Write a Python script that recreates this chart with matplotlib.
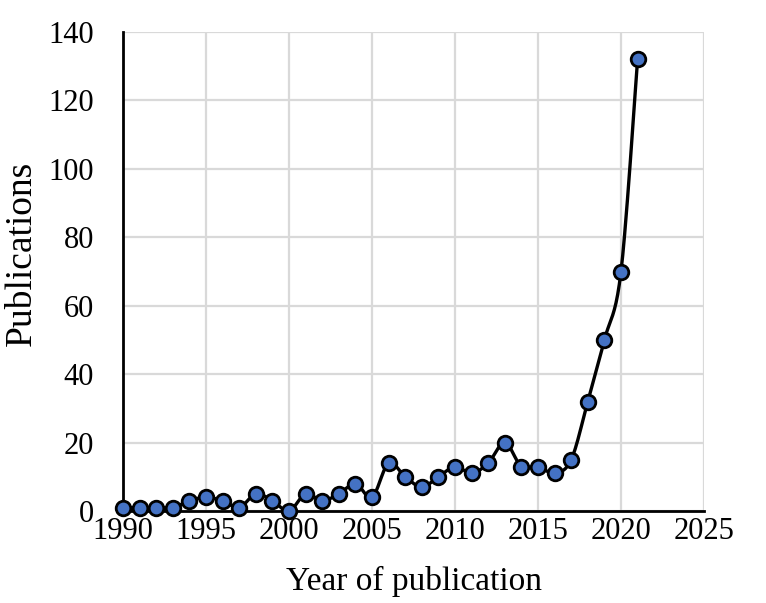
import numpy as np
import matplotlib
matplotlib.use('Agg')
import matplotlib.pyplot as plt

# ------------------------------
# Data
# ------------------------------
years = list(range(1990, 2022))
publications = [1, 1, 1, 1, 3, 4, 3, 1, 5, 3,
                0, 5, 3, 5, 8, 4, 14, 10, 7, 10,
                13, 11, 14, 20, 13, 13, 11, 15, 32, 50,
                70, 132]
x_ticks = [1990, 1995, 2000, 2005, 2010, 2015, 2020, 2025]
y_ticks = [0, 20, 40, 60, 80, 100, 120, 140]


def smooth_line(x, y, steps=20):
    """Excel-like smoothed line (bezier segments through the points)"""
    x = np.asarray(x, float)
    y = np.asarray(y, float)
    px = np.concatenate([[x[0]], x, [x[-1]]])
    py = np.concatenate([[y[0]], y, [y[-1]]])
    xs, ys = [], []
    t = np.linspace(0, 1, steps, endpoint=False)
    for i in range(1, len(px) - 2):
        p0, p1, p2, p3 = px[i - 1], px[i], px[i + 1], px[i + 2]
        q0, q1, q2, q3 = py[i - 1], py[i], py[i + 1], py[i + 2]
        c1x, c1y = p1 + (p2 - p0) / 6, q1 + (q2 - q0) / 6
        c2x, c2y = p2 - (p3 - p1) / 6, q2 - (q3 - q1) / 6
        b0 = (1 - t) ** 3
        b1 = 3 * (1 - t) ** 2 * t
        b2 = 3 * (1 - t) * t ** 2
        b3 = t ** 3
        xs.extend(b0 * p1 + b1 * c1x + b2 * c2x + b3 * p2)
        ys.extend(b0 * q1 + b1 * c1y + b2 * c2y + b3 * q2)
    xs.append(x[-1])
    ys.append(y[-1])
    return xs, ys


plt.rcParams['font.family'] = ['Liberation Serif', 'DejaVu Serif']

W, H = 766, 603
fig = plt.figure(figsize=(W / 100, H / 100), dpi=100)
ax = fig.add_axes([123 / W, 1 - 511 / H, (704 - 123) / W, (511 - 32) / H])

sx, sy = smooth_line(years, publications)
ax.plot(sx, sy, color='black', linewidth=2.4, zorder=3, clip_on=False)
ax.plot(years, publications, linestyle='none', marker='o', markersize=10.5,
        markerfacecolor='#4472C4', markeredgecolor='black', markeredgewidth=2.0,
        zorder=4, clip_on=False)

ax.set_xlim(1990, 2025)
ax.set_ylim(0, 140)
ax.set_xticks(x_ticks)
ax.set_yticks(y_ticks)
ax.tick_params(axis='both', length=0, labelsize=22)
ax.tick_params(axis='x', pad=4)
ax.tick_params(axis='y', pad=21)

ax.grid(True, color='#d9d9d9', linewidth=1.6)
ax.set_axisbelow(True)
for side in ['top', 'right']:
    ax.spines[side].set_visible(False)
for side in ['left', 'bottom']:
    ax.spines[side].set_linewidth(2.0)
    ax.spines[side].set_color('black')

ax.set_xlabel('Year of publication', fontsize=24)
ax.set_ylabel('Publications', fontsize=27)
ax.xaxis.set_label_coords(0.5, (511 - 566) / 479)
ax.yaxis.set_label_coords((39 - 123) / 581, (511 - 253) / 479)

fig.savefig('out.png', dpi=100)
